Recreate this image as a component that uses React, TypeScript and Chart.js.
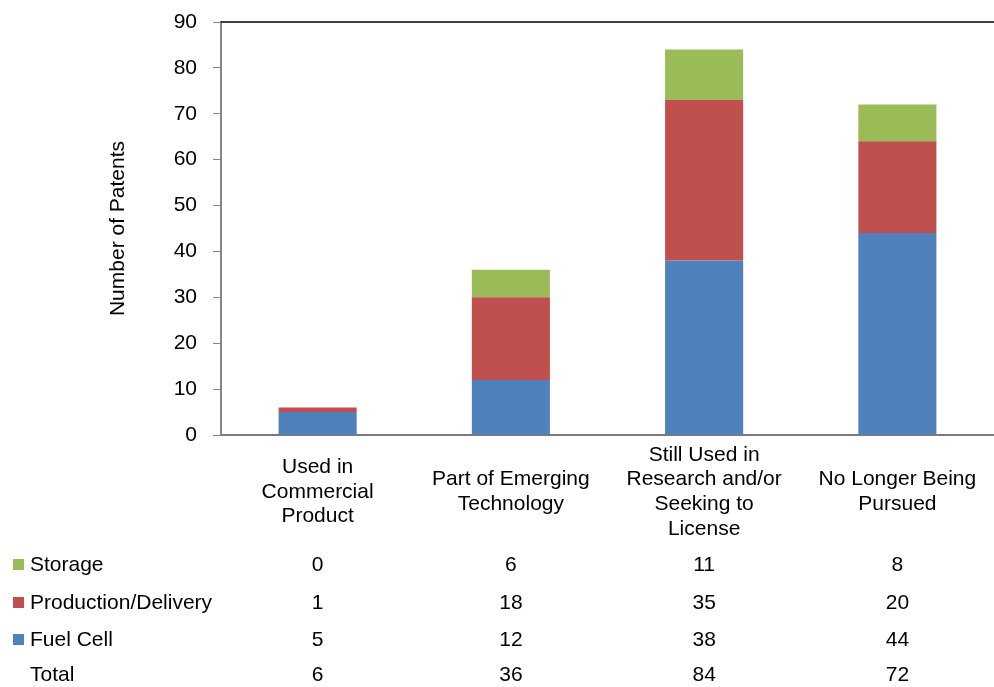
import React, { useEffect, useRef } from "react";
import { Chart, registerables } from "chart.js";

Chart.register(...registerables);

const categories: string[][] = [
  ["Used in", "Commercial", "Product"],
  ["Part of Emerging", "Technology"],
  ["Still Used in", "Research and/or", "Seeking to", "License"],
  ["No Longer Being", "Pursued"],
];
const seriesNames = ["Fuel Cell", "Production/Delivery", "Storage"];
const fuelCell = [5, 12, 38, 44];
const productionDelivery = [1, 18, 35, 20];
const storage = [0, 6, 11, 8];
const totals = [6, 36, 84, 72];
const colors = ["#4F81BD", "#C0504D", "#9BBB59"];
const yTicks = { min: 0, max: 90, step: 10 };

const FONT = "'Liberation Sans', Arial, sans-serif";
const FS = 21;

const customPlugin = {
  id: "custom",
  afterDraw(chart: any) {
    const { ctx, chartArea, scales } = chart;
    const x = scales.x;
    ctx.save();
    // top border
    ctx.strokeStyle = "#000";
    ctx.lineWidth = 1.5;
    ctx.beginPath();
    ctx.moveTo(chartArea.left, chartArea.top);
    ctx.lineTo(chart.width, chartArea.top);
    ctx.stroke();

    ctx.fillStyle = "#000";
    ctx.font = `${FS}px ${FONT}`;
    ctx.textAlign = "center";
    ctx.textBaseline = "middle";
    // category labels
    categories.forEach((lines, i) => {
      const cx = x.getPixelForValue(i);
      const n = lines.length;
      lines.forEach((ln, j) => {
        ctx.fillText(ln, cx, 492 + (j - (n - 1) / 2) * 24.7);
      });
    });
    // y title
    ctx.save();
    ctx.translate(118, (chartArea.top + chartArea.bottom) / 2);
    ctx.rotate(-Math.PI / 2);
    ctx.fillText("Number of Patents", 0, 0);
    ctx.restore();

    // table
    const rows = [
      { label: seriesNames[2], color: colors[2], vals: storage, y: 565 },
      { label: seriesNames[1], color: colors[1], vals: productionDelivery, y: 603 },
      { label: seriesNames[0], color: colors[0], vals: fuelCell, y: 640 },
      { label: "Total", color: null, vals: totals, y: 675 },
    ];
    rows.forEach((r) => {
      if (r.color) {
        ctx.fillStyle = r.color;
        ctx.fillRect(13, r.y - 6, 11, 11);
      }
      ctx.fillStyle = "#000";
      ctx.textAlign = "left";
      ctx.fillText(r.label, 30, r.y);
      ctx.textAlign = "center";
      r.vals.forEach((v, i) => {
        ctx.fillText(String(v), x.getPixelForValue(i), r.y);
      });
    });
    ctx.restore();
  },
};

export default function App() {
  const ref = useRef<HTMLCanvasElement>(null);
  useEffect(() => {
    if (!ref.current) return;
    const chart = new Chart(ref.current, {
      type: "bar",
      data: {
        labels: categories.map((c) => c.join(" ")),
        datasets: [
          { label: seriesNames[0], data: fuelCell, backgroundColor: colors[0] },
          { label: seriesNames[1], data: productionDelivery, backgroundColor: colors[1] },
          { label: seriesNames[2], data: storage, backgroundColor: colors[2] },
        ],
      },
      options: {
        responsive: false,
        animation: false,
        devicePixelRatio: 1,
        layout: { padding: { top: 22, left: 0, right: 0, bottom: 0 } },
        datasets: { bar: { categoryPercentage: 1, barPercentage: 0.404 } },
        plugins: { legend: { display: false }, tooltip: { enabled: false } },
        scales: {
          x: {
            stacked: true,
            grid: { display: false },
            border: { display: true, color: "#7a7a7a", width: 2 },
            ticks: { display: false },
            afterFit: (s: any) => {
              s.height = 252;
              s.paddingLeft = 0;
              s.paddingRight = 0;
            },
          },
          y: {
            stacked: true,
            min: yTicks.min,
            max: yTicks.max,
            ticks: {
              stepSize: yTicks.step,
              color: "#000",
              font: { family: FONT, size: FS },
              padding: 16,
            },
            grid: {
              drawOnChartArea: false,
              drawTicks: true,
              tickLength: 8,
              color: "#868686",
            },
            border: { display: true, color: "#868686", width: 2 },
            afterFit: (s: any) => {
              s.width = 221;
              s.paddingTop = 0;
              s.paddingBottom = 0;
            },
          },
        },
      },
      plugins: [customPlugin],
    });
    return () => chart.destroy();
  }, []);
  return (
    <div style={{ position: "absolute", left: 0, top: 0, width: 994, height: 687 }}>
      <canvas ref={ref} width={994} height={687} style={{ width: 994, height: 687 }} />
    </div>
  );
}
